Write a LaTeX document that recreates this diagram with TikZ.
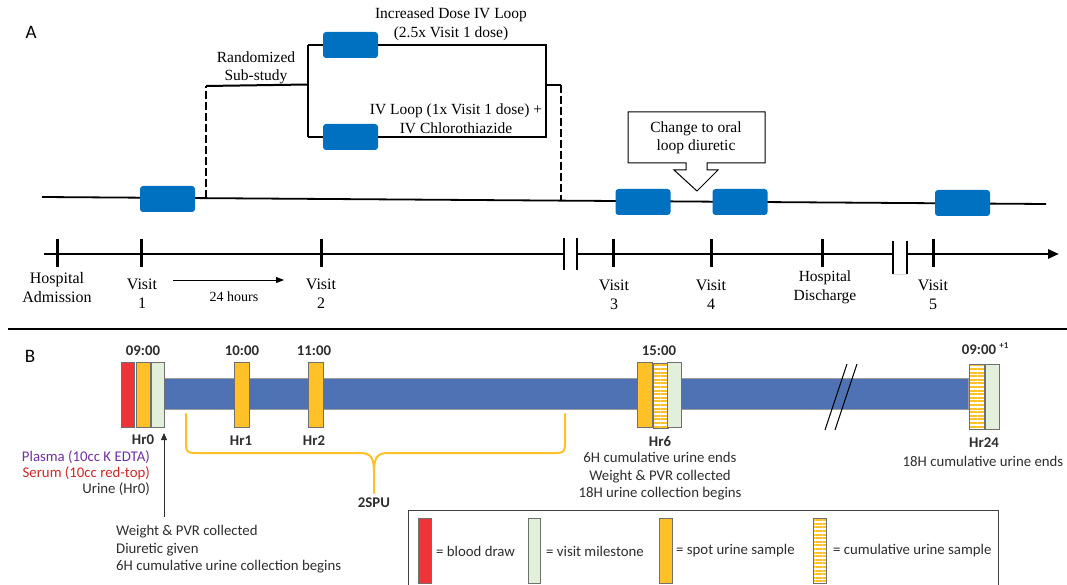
\documentclass[tikz,border=0pt]{standalone}
\usepackage{fontspec}
\setmainfont{Liberation Serif}
\newfontfamily\calib{Carlito}
\usetikzlibrary{arrows.meta,patterns.meta}
\definecolor{boxblue}{RGB}{0,112,192}
\definecolor{barblue}{RGB}{79,114,181}
\definecolor{bred}{RGB}{238,52,56}
\definecolor{borange}{RGB}{255,192,40}
\definecolor{bgreen}{RGB}{226,239,218}
\definecolor{bgrey}{RGB}{112,112,112}
\definecolor{plasma}{RGB}{112,48,160}
\definecolor{serum}{RGB}{204,40,40}
\definecolor{txtgrey}{RGB}{45,45,45}
\tikzset{
  bluebox/.style={fill=boxblue, rounded corners=3pt, minimum width=55pt, minimum height=26pt, inner sep=0pt, draw=none},
  serif/.style={font=\fontsize{15.5}{18.5}\selectfont, align=center, inner sep=0pt},
  sans/.style={font=\calib\fontsize{14.8}{17.5}\selectfont, text=txtgrey, inner sep=0pt},
  sansb/.style={font=\calib\bfseries\fontsize{14.8}{17}\selectfont, text=txtgrey, inner sep=0pt},
  sample/.style={draw=bgrey, line width=0.8pt, minimum height=65pt, inner sep=0pt, anchor=north west},
  hatch/.style={preaction={fill=white}, pattern={Lines[angle=0,distance=3.6pt,line width=2pt]}, pattern color=borange},
  bracket/.style={line width=2pt},
  dashline/.style={line width=2.4pt, dash pattern=on 8pt off 3pt},
  axis/.style={line width=2.8pt},
  tick/.style={line width=3pt},
  brk/.style={line width=1.3pt},
  brace/.style={draw=borange, line width=2pt, line cap=round, line join=round}
}
\begin{document}
\begin{tikzpicture}[x=1pt,y=-1pt]
\useasboundingbox (0,0) rectangle (1067,585);
% ---------------- Panel A ----------------
\node[font=\calib\fontsize{19}{19}\selectfont, inner sep=0pt] (lblA) at (31,32) {A};
% main line
\coordinate (L0) at (42,197);
\coordinate (L1) at (1046,204);
\draw[line width=1.8pt] (L0) -- (L1);
% branch structure
\coordinate (d1t) at (206,86);
\coordinate (d1b) at (206,198);
\coordinate (jL) at (308,84.5);
\coordinate (tl) at (308,45);
\coordinate (bl) at (308,137);
\coordinate (tr) at (546,45);
\coordinate (br) at (546,137);
\coordinate (jR) at (546,85);
\coordinate (d2t) at (561,85);
\coordinate (d2b) at (561,200.5);
\draw[dashline] (d1b) -- (d1t);
\draw[bracket] (d1t) -- (jL);
\draw[bracket] (tl) -- (bl);
\draw[bracket] (tl) -- (tr) -- (br) -- (bl);
\draw[bracket] (jR) -- (d2t);
\draw[dashline] (d2t) -- (d2b);
% blue boxes
\node[bluebox] (b1) at (167.5,199) {};
\node[bluebox] (bt) at (350.5,45) {};
\node[bluebox] (bb) at (350.5,137) {};
\node[bluebox] (b3) at (643,202) {};
\node[bluebox] (b4) at (740,202) {};
\node[bluebox] (b5) at (962.5,203) {};
% texts
\node[serif] (rand) at (256,68) {Randomized\\Sub-study};
\node[serif] (incr) at (451,24.5) {Increased Dose IV Loop\\(2.5x Visit 1 dose)};
\node[serif] (ivl) at (456,118.5) {IV Loop (1x Visit 1 dose) +\\IV Chlorothiazide};
% callout
\draw[line width=1pt, fill=white] (628,112) -- (765,112) -- (765,163) -- (707,163) -- (707,170) -- (718,170) -- (697,191) -- (674,170) -- (686,170) -- (686,163) -- (628,163) -- cycle;
\node[serif] (oral) at (696,138) {Change to oral\\loop diuretic};
% time axis
\draw[axis] (44,254) -- (564,254);
\draw[axis] (577,254) -- (893,254);
\draw[axis,-{Triangle[length=11pt,width=9pt]}] (907,254) -- (1059,254);
\foreach \t in {57,141,321,613,711,822,933}{\draw[tick] (\t,239) -- (\t,267);}
\draw[brk] (564,238) -- (564,270);
\draw[brk] (577,238) -- (577,270);
\draw[line width=1pt, draw=black!15] (893,274) -- (907,274);
\draw[brk] (893,241) -- (893,274);
\draw[brk] (907,241) -- (907,274);
% axis labels
\node[serif, font=\fontsize{16}{19}\selectfont] (adm) at (57,287.5) {Hospital\\Admission};
\node[serif, font=\fontsize{16}{19}\selectfont] (v1) at (142,294) {Visit\\1};
\node[serif, font=\fontsize{16}{19}\selectfont] (v2) at (321,294) {Visit\\2};
\node[serif, font=\fontsize{16}{19}\selectfont] (v3) at (614,295) {Visit\\3};
\node[serif, font=\fontsize{16}{19}\selectfont] (v4) at (711,295) {Visit\\4};
\node[serif] (dis) at (825,287.5) {Hospital\\Discharge};
\node[serif, font=\fontsize{16}{19}\selectfont] (v5) at (933,295) {Visit\\5};
\coordinate (h24a) at (173,280);
\coordinate (h24b) at (284,280);
\draw[line width=0.8pt, -{Triangle[length=8pt,width=6pt]}] (h24a) -- (h24b);
\node[serif, font=\fontsize{14}{16}\selectfont] (h24) at (234,296.5) {24 hours};
% separator
\draw[line width=2pt] (8,329) -- (1067,329);
% ---------------- Panel B ----------------
\node[font=\calib\fontsize{19}{19}\selectfont, inner sep=0pt] (lblB) at (30,356) {B};
% bar
\fill[barblue, draw=bgrey!70, line width=0.5pt] (164,378) rectangle (968,409);
% break marks
\draw[line width=1pt] (825,430) -- (847,364);
\draw[line width=1pt] (835,430) -- (857,364);
% Hr0
\node[sample, fill=bred, minimum width=13pt] (r0) at (121,362) {};
\node[sample, fill=borange, minimum width=14pt] (o0) at (136,362) {};
\node[sample, fill=bgreen, minimum width=13pt] (g0) at (151,362) {};
% Hr1, Hr2
\node[sample, fill=borange, minimum width=15pt] (o1) at (234,362) {};
\node[sample, fill=borange, minimum width=15pt] (o2) at (308,362) {};
% Hr6
\node[sample, fill=borange, minimum width=15pt] (o6) at (637,362) {};
\node[sample, hatch, minimum width=15pt] (c6) at (652,362) {};
\node[sample, fill=bgreen, minimum width=14pt] (g6) at (667,362) {};
% Hr24
\node[sample, hatch, minimum width=15pt] (c24) at (969,364) {};
\node[sample, fill=bgreen, minimum width=14pt] (g24) at (984.5,364) {};
% time labels
\node[sansb] (t0) at (143,351) {09:00};
\node[sansb] (t1) at (242,351) {10:00};
\node[sansb] (t2) at (314,351) {11:00};
\node[sansb] (t6) at (659,351) {15:00};
\node[sansb] (t24) at (979,350) {09:00};
\node[sansb, font=\calib\bfseries\fontsize{9}{9}\selectfont] (p1) at (1004,346) {+1};
% hr labels
\node[sansb] (hr0) at (143,440) {Hr0};
\node[sansb] (hr1) at (241,441) {Hr1};
\node[sansb] (hr2) at (314,441) {Hr2};
\node[sansb] (hr6) at (660,441) {Hr6};
\node[sansb] (hr24) at (984,443) {Hr24};
% left texts
\node[sans, text=plasma, anchor=east] (pl) at (150,457) {Plasma (10cc K EDTA)};
\node[sans, text=serum, anchor=east] (se) at (150,473) {Serum (10cc red-top)};
\node[sans, anchor=east] (ur) at (150,489) {Urine (Hr0)};
\coordinate (arB) at (164,517);
\coordinate (arT) at (164,433);
\draw[line width=0.8pt, draw=txtgrey, -{Triangle[length=7pt,width=6pt]}] (arB) -- (arT);
\node[sans, anchor=west, align=left, font=\calib\fontsize{14.8}{17.5}\selectfont] (wt0) at (116,549.5) {Weight \& PVR collected\\Diuretic given\\6H cumulative urine collection begins};
% Hr6 texts
\node[sans, align=center] (t6txt) at (660,476.5) {6H cumulative urine ends\\Weight \& PVR collected\\18H urine collection begins};
\node[sans] (t24txt) at (983,461) {18H cumulative urine ends};
% brace
\draw[brace] (186,414) -- (186,445) .. controls (186,451) and (188,453) .. (194,453) -- (360,453) .. controls (371,453) and (374,458) .. (374,472) -- (374,493);
\draw[brace] (565,414) -- (565,445) .. controls (565,451) and (563,453) .. (557,453) -- (388,453) .. controls (377,453) and (374,458) .. (374,472);
\node[sansb] (spu) at (374,503) {2SPU};
% legend
\draw[line width=1pt, draw=black!75] (408,590) -- (408,510) -- (998,510) -- (998,590);
\node[sample, fill=bred, minimum width=13pt] (lr) at (418,518) {};
\node[sans, anchor=west] (llr) at (436,551) {= blood draw};
\node[sample, fill=bgreen, minimum width=12pt] (lg) at (528,518) {};
\node[sans, anchor=west] (llg) at (546,551) {= visit milestone};
\node[sample, fill=borange, minimum width=13pt] (lo) at (659,518) {};
\node[sans, anchor=west] (llo) at (676,551) {= spot urine sample};
\node[sample, hatch, minimum width=13pt] (lc) at (813,518) {};
\node[sans, anchor=west] (llc) at (833,551) {= cumulative urine sample};
\end{tikzpicture}
\end{document}
